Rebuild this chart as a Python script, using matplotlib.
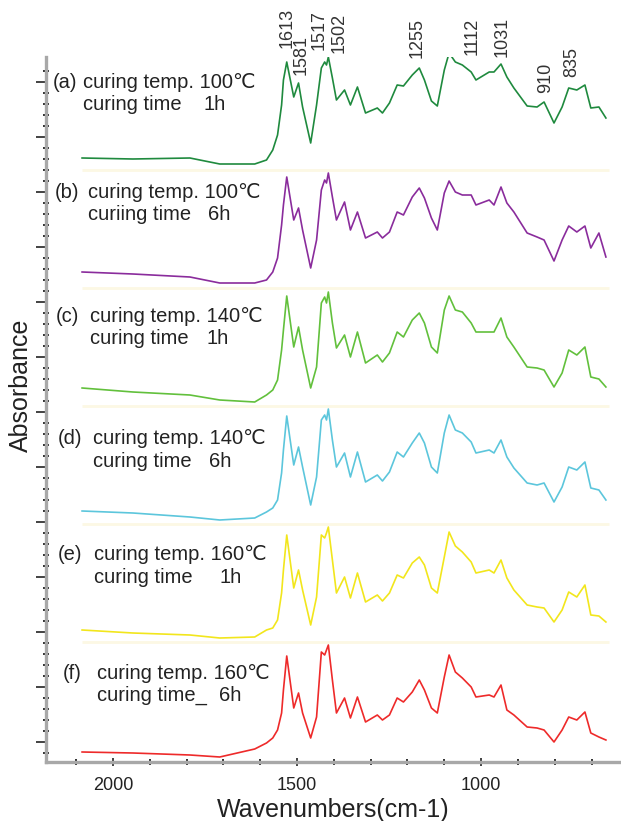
import numpy as np
import matplotlib
matplotlib.use('Agg')
import matplotlib.pyplot as plt
from matplotlib.ticker import FixedLocator, NullFormatter

# Wavenumber grid shared by all six spectra (cm-1, as read on the plotted axis)
wavenumber = [2084, 1946, 1791, 1710, 1615, 1583, 1566, 1553, 1542, 1537,
              1528, 1509, 1496, 1485, 1463, 1447, 1434, 1425, 1420, 1415,
              1404, 1393, 1371, 1355, 1336, 1314, 1282, 1268, 1249, 1228,
              1211, 1187, 1168, 1154, 1135, 1119, 1100, 1087, 1070, 1051,
              1027, 1014, 978, 965, 946, 930, 911, 875, 848, 829,
              802, 780, 762, 740, 718, 702, 680, 661]

abs_a = [0.12, 0.11, 0.12, 0.06, 0.06, 0.10, 0.20, 0.35, 0.65, 0.90,
         1.08, 0.73, 0.87, 0.63, 0.27, 0.65, 1.02, 1.08, 1.05, 1.13,
         0.92, 0.70, 0.80, 0.65, 0.83, 0.57, 0.62, 0.57, 0.67, 0.85,
         0.84, 0.95, 1.02, 0.90, 0.69, 0.64, 1.00, 1.17, 1.08, 1.05,
         0.98, 0.90, 0.98, 0.98, 1.06, 0.93, 0.82, 0.64, 0.63, 0.68,
         0.47, 0.63, 0.82, 0.80, 0.85, 0.62, 0.63, 0.52]

abs_b = [0.16, 0.14, 0.11, 0.05, 0.05, 0.08, 0.16, 0.30, 0.63, 0.83,
         1.11, 0.68, 0.80, 0.58, 0.20, 0.48, 0.98, 1.08, 1.05, 1.15,
         0.91, 0.68, 0.86, 0.58, 0.76, 0.50, 0.56, 0.50, 0.56, 0.76,
         0.73, 0.91, 1.00, 0.90, 0.70, 0.58, 0.95, 1.07, 0.96, 0.93,
         0.93, 0.83, 0.88, 0.83, 1.01, 0.85, 0.76, 0.55, 0.51, 0.48,
         0.27, 0.48, 0.62, 0.56, 0.62, 0.40, 0.55, 0.31]

abs_c = [0.18, 0.14, 0.11, 0.06, 0.04, 0.11, 0.16, 0.26, 0.56, 0.76,
         1.10, 0.59, 0.79, 0.56, 0.18, 0.39, 1.03, 1.09, 1.03, 1.14,
         0.83, 0.58, 0.71, 0.49, 0.74, 0.43, 0.51, 0.44, 0.53, 0.74,
         0.69, 0.86, 0.93, 0.83, 0.59, 0.53, 0.96, 1.10, 0.96, 0.94,
         0.83, 0.74, 0.74, 0.74, 0.88, 0.69, 0.59, 0.39, 0.38, 0.36,
         0.19, 0.33, 0.56, 0.51, 0.59, 0.29, 0.27, 0.19]

abs_d = [0.13, 0.11, 0.07, 0.04, 0.06, 0.12, 0.16, 0.24, 0.51, 0.74,
         1.08, 0.59, 0.77, 0.57, 0.19, 0.47, 1.04, 1.09, 1.04, 1.15,
         0.84, 0.57, 0.71, 0.47, 0.72, 0.42, 0.49, 0.43, 0.52, 0.72,
         0.67, 0.81, 0.91, 0.81, 0.57, 0.51, 0.91, 1.09, 0.94, 0.91,
         0.82, 0.71, 0.74, 0.71, 0.84, 0.67, 0.56, 0.41, 0.39, 0.41,
         0.22, 0.37, 0.57, 0.54, 0.62, 0.36, 0.34, 0.24]

abs_e = [0.12, 0.09, 0.07, 0.04, 0.05, 0.12, 0.14, 0.22, 0.49, 0.72,
         1.07, 0.54, 0.72, 0.52, 0.17, 0.45, 1.07, 1.04, 1.09, 1.15,
         0.82, 0.49, 0.65, 0.44, 0.69, 0.40, 0.47, 0.41, 0.49, 0.67,
         0.64, 0.79, 0.85, 0.77, 0.54, 0.49, 0.85, 1.10, 0.96, 0.90,
         0.80, 0.69, 0.72, 0.69, 0.82, 0.64, 0.52, 0.37, 0.35, 0.34,
         0.20, 0.32, 0.50, 0.45, 0.57, 0.27, 0.26, 0.20]

abs_f = [0.08, 0.07, 0.05, 0.03, 0.11, 0.17, 0.22, 0.30, 0.47, 0.70,
         1.04, 0.52, 0.67, 0.47, 0.22, 0.43, 1.08, 1.05, 1.10, 1.15,
         0.80, 0.47, 0.62, 0.42, 0.63, 0.38, 0.45, 0.40, 0.45, 0.62,
         0.58, 0.68, 0.80, 0.70, 0.52, 0.47, 0.83, 1.05, 0.88, 0.82,
         0.73, 0.63, 0.65, 0.63, 0.75, 0.50, 0.45, 0.33, 0.32, 0.30,
         0.18, 0.30, 0.43, 0.40, 0.48, 0.27, 0.23, 0.20]

sample_tags = ['(a)', '(b)', '(c)', '(d)', '(e)', '(f)']
cure_temps = ['100', '100', '140', '140', '160', '160']
time_words = ['curing time', 'curiing time', 'curing time', 'curing time',
              'curing time', 'curing time_']
cure_times = ['1h', '6h', '1h', '6h', '1h', '6h']

# Band assignments marked above the top spectrum
peak_names = ['1613', '1581', '1517', '1502', '1255', '1112', '1031', '910', '835']
peak_pos = [1528, 1488, 1439, 1385, 1173, 1024, 943, 824, 753]
peak_label_y = [7.14, 6.87, 7.12, 7.09, 7.04, 7.07, 7.05, 6.69, 6.85]

spectra = [abs_a, abs_b, abs_c, abs_d, abs_e, abs_f]
colors = ['#1f8a3e', '#8a2c9c', '#62c03c', '#5cc6dc', '#f2e61c', '#ee2a2a']
step = 1.18
offsets = [0.02 + step * (5 - i) for i in range(6)]

# where the sample captions sit (x in cm-1, y in stacked units)
tag_x = [2163, 2158, 2155, 2149, 2149, 2136]
text_x = [2082, 2068, 2062, 2054, 2052, 2043]
hour_x = [1753, 1742, 1747, 1739, 1712, 1712]
cap_y = [6.79, 5.69, 4.45, 3.23, 2.07, 0.89]
line_gap = 0.22

main_font = ['Liberation Sans', 'DejaVu Sans']
narrow_font = ['Liberation Sans Narrow', 'Liberation Sans', 'DejaVu Sans']

fig = plt.figure(figsize=(6.21, 8.21), dpi=100)
ax = fig.add_axes([46 / 621, 59 / 821, 575 / 621, 705 / 821])

wn = np.array(wavenumber)
for i, (spec, col) in enumerate(zip(spectra, colors)):
    if i < 5:
        # faint divider under each spectrum
        ax.hlines(offsets[i], 2084, 652, color='#fcf8e4', lw=2, zorder=1)
    ax.plot(wn, np.array(spec) + offsets[i], color=col, lw=1.2, zorder=3)

for i in range(6):
    ax.text(tag_x[i], cap_y[i], sample_tags[i], fontsize=14.5, family=main_font,
            color='#222222', va='center', ha='left')
    ax.text(text_x[i], cap_y[i], 'curing temp. ' + cure_temps[i] + '\u2103',
            fontsize=14.5, family=main_font, color='#222222', va='center', ha='left')
    ax.text(text_x[i], cap_y[i] - line_gap, time_words[i], fontsize=14.5,
            family=main_font, color='#222222', va='center', ha='left')
    ax.text(hour_x[i], cap_y[i] - line_gap, cure_times[i], fontsize=14.5,
            family=main_font, color='#222222', va='center', ha='left')

for name, x, y in zip(peak_names, peak_pos, peak_label_y):
    ax.text(x, y, name, rotation=90, ha='center', va='bottom', fontsize=13,
            family=narrow_font, color='#333333', clip_on=False)

ax.set_xlim(2182, 620)
ax.set_ylim(0, 7.05)

for side in ['top', 'right']:
    ax.spines[side].set_visible(False)
for side in ['left', 'bottom']:
    ax.spines[side].set_color('#a8a8a8')
    ax.spines[side].set_linewidth(2.4)

ax.xaxis.set_major_locator(FixedLocator([2000, 1500, 1000]))
ax.xaxis.set_minor_locator(FixedLocator(np.arange(700, 2200, 100)))
ax.tick_params(axis='x', which='major', direction='inout', length=6, width=1.2,
               color='#222222', labelsize=13, pad=8, labelcolor='#222222')
ax.tick_params(axis='x', which='minor', direction='inout', length=4, width=1.3,
               color='#222222')
for lab in ax.get_xticklabels():
    lab.set_family(main_font)

ax.yaxis.set_major_locator(FixedLocator(np.arange(0.20, 7.0, 0.55)))
ax.yaxis.set_minor_locator(FixedLocator(np.arange(0.09, 7.0, 0.11)))
ax.yaxis.set_major_formatter(NullFormatter())
ax.tick_params(axis='y', which='major', direction='out', length=7, width=1.2,
               color='#222222')
ax.tick_params(axis='y', which='minor', direction='inout', length=4.5, width=1.3,
               color='#222222')

ax.set_xlabel('Wavenumbers(cm-1)', fontsize=18, family=main_font,
              color='#222222', labelpad=3)
ax.set_ylabel('Absorbance', fontsize=18, family=main_font, color='#222222')
ax.yaxis.set_label_coords(-0.022, 0.535)

fig.savefig('out.png', dpi=100)
